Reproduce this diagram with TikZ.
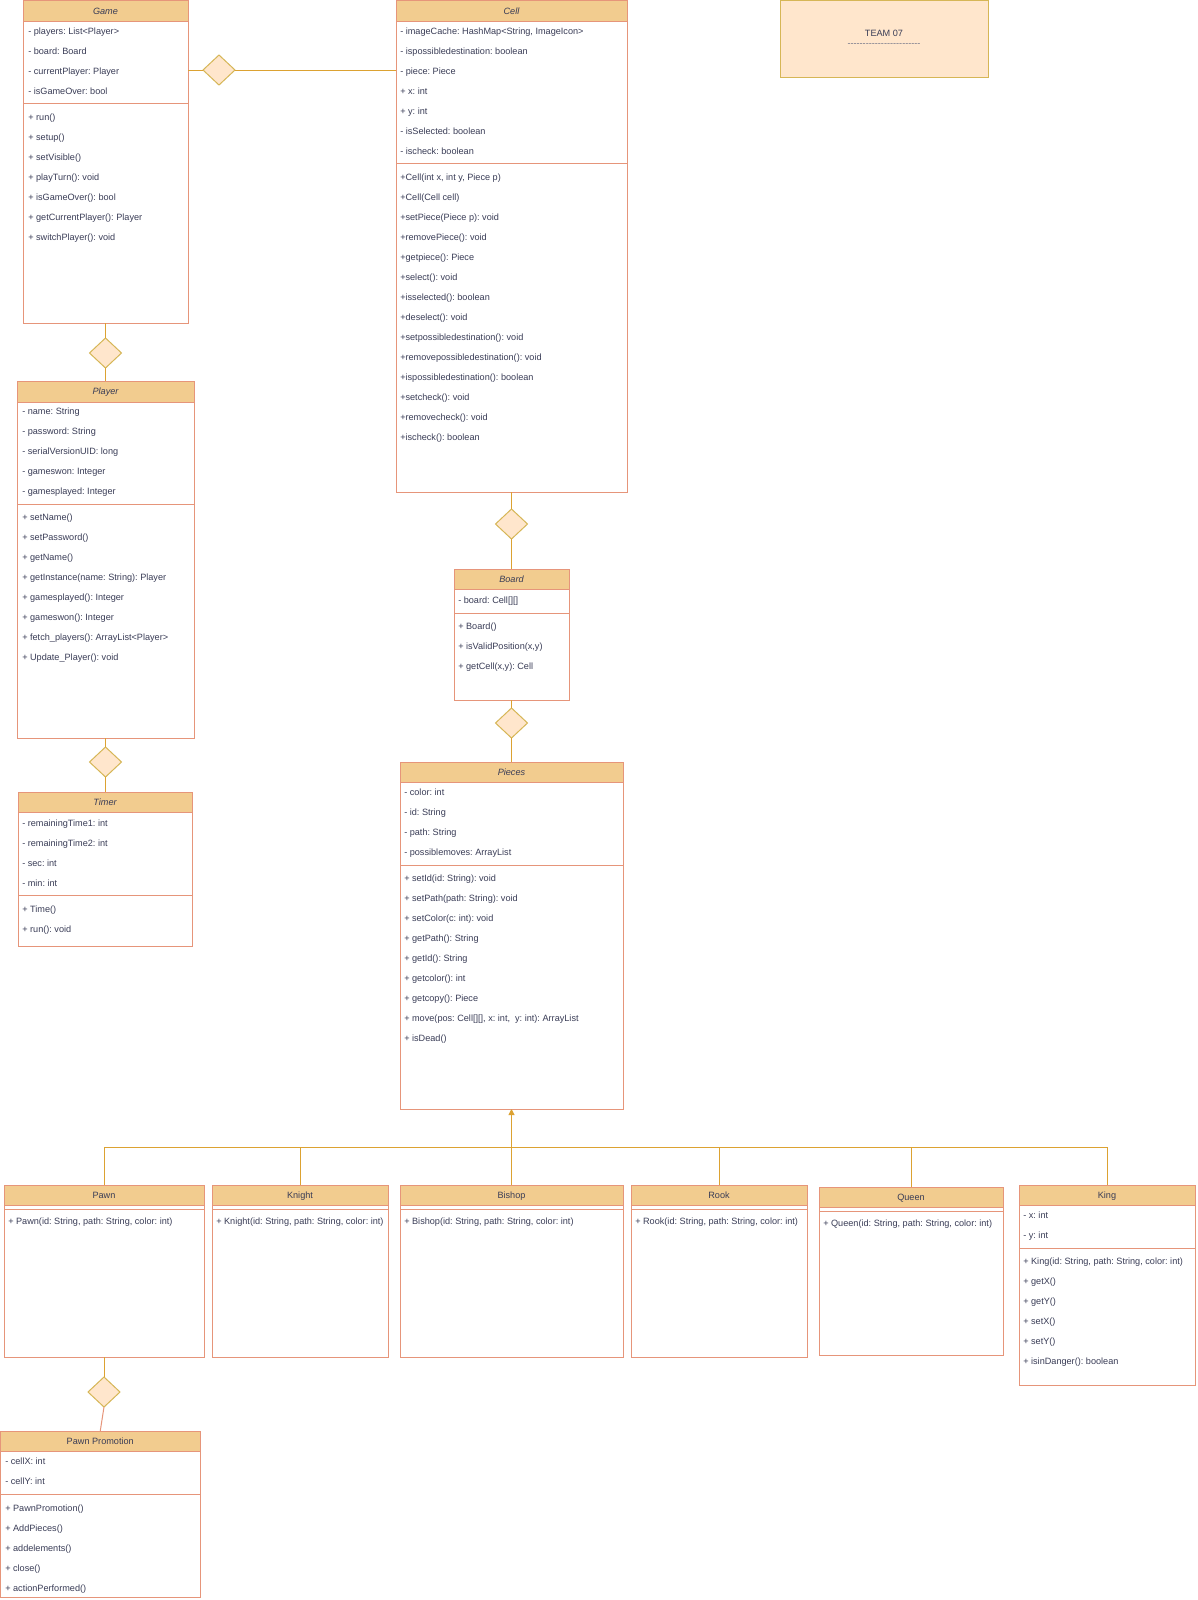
\documentclass[tikz,border=0pt]{standalone}
\usepackage{fontspec}
\setmainfont{Liberation Sans}
\usetikzlibrary{shapes.geometric,fit,arrows.meta}
\definecolor{headfill}{HTML}{F2CC8F}
\definecolor{clsstroke}{HTML}{E6957A}
\definecolor{txtc}{HTML}{393C56}
\definecolor{connc}{HTML}{DCA232}
\definecolor{dfill}{HTML}{FFE6CC}
\definecolor{dstroke}{HTML}{D6B656}
\tikzset{
  clsbox/.style={rectangle, draw=clsstroke, line width=0.75pt, inner sep=0pt, outer sep=0pt},
  clsline/.style={draw=clsstroke, line width=0.75pt},
  titletext/.style={anchor=base, inner sep=0pt, text=txtc, font=\fontsize{6.85pt}{8pt}\selectfont\frenchspacing},
  rowtext/.style={anchor=base west, inner sep=0pt, text=txtc, font=\fontsize{6.85pt}{8pt}\selectfont\frenchspacing},
  conn/.style={draw=connc, line width=0.75pt},
  diam/.style={diamond, draw=dstroke, fill=dfill, line width=0.75pt, minimum width=24pt, minimum height=22.5pt, inner sep=0pt, outer sep=0pt},
  teambox/.style={rectangle, draw=dstroke, fill=dfill, line width=0.75pt, inner sep=0pt, outer sep=0pt},
}
% #1 name, #2 x1, #3 y1, #4 x2, #5 y2, #6 header bottom, #7 title
\newcommand{\umlcls}[7]{%
  \fill[headfill] (#2,#3) rectangle (#4,#6);
  \node[clsbox, fit={(#2,#3) (#4,#5)}] (#1) {};
  \draw[clsline] (#2,#6) -- (#4,#6);
  \node[titletext] (#1-title) at ({(#2+#4)/2},{(#3+#6)/2+3.3}) {#7};
}
% #1 prefix, #2 x, #3 first row y, #4 list
\newcommand{\rowlist}[4]{%
  \foreach \rtext [count=\ri] in {#4} {\node[rowtext] (#1\ri) at (#2,{#3+20*(\ri-1)+3.3}) {\rtext};}
}
\newcommand{\hh}{-\kern0pt}
\begin{document}
\begin{tikzpicture}[x=0.75pt,y=-0.75pt]
\useasboundingbox (0,0) rectangle (1197,1600);
\fill[white] (0,0) rectangle (1197,1600);

% ---------- Game ----------
\umlcls{game}{23}{0.5}{188}{323}{21}{\itshape Game}
\draw[clsline] (23,103) -- (188,103);
\rowlist{game-a}{28}{31}{{- players: List<Player>},{- board: Board},{- currentPlayer: Player},{- isGameOver: bool}}
\rowlist{game-m}{28}{117}{{+ run()},{+ setup()},{+ setVisible()},{+ playTurn(): void},{+ isGameOver(): bool},{+ getCurrentPlayer(): Player},{+ switchPlayer(): void}}

% ---------- Cell ----------
\umlcls{cell}{396}{0.5}{627}{492}{21}{\itshape Cell}
\draw[clsline] (396,163) -- (627,163);
\rowlist{cell-a}{400}{31}{{- imageCache: HashMap<String, ImageIcon>},{- ispossibledestination: boolean},{- piece: Piece},{+ x: int},{+ y: int},{- isSelected: boolean},{- ischeck: boolean}}
\rowlist{cell-m}{400}{177}{{+Cell(int x, int y, Piece p)},{+Cell(Cell cell)},{+setPiece(Piece p): void},{+removePiece(): void},{+getpiece(): Piece},{+select(): void},{+isselected(): boolean},{+deselect(): void},{+setpossibledestination(): void},{+removepossibledestination(): void},{+ispossibledestination(): boolean},{+setcheck(): void},{+removecheck(): void},{+ischeck(): boolean}}

% ---------- Team ----------
\node[teambox, fit={(780,0.5) (988,77)}] (team) {};
\node[titletext] (team-t) at (884,36.3) {TEAM 07};
\node[titletext, text=txtc!70] (team-d) at (884,46.5) {\hh\hh\hh\hh\hh\hh\hh\hh\hh\hh\hh\hh\hh\hh\hh\hh\hh\hh\hh\hh\hh\hh\hh\hh};

% ---------- Player ----------
\umlcls{player}{17}{381}{194}{738}{402}{\itshape Player}
\draw[clsline] (17,504) -- (194,504);
\rowlist{player-a}{22}{411}{{- name: String},{- password: String},{- serialVersionUID: long},{- gameswon: Integer},{- gamesplayed: Integer}}
\rowlist{player-m}{22}{517}{{+ setName()},{+ setPassword()},{+ getName()},{+ getInstance(name: String): Player},{+ gamesplayed(): Integer},{+ gameswon(): Integer},{+ fetch\_players(): ArrayList<Player>},{+ Update\_Player(): void}}

% ---------- Timer ----------
\umlcls{timer}{18}{792}{192}{946}{812}{\itshape Timer}
\draw[clsline] (18,895) -- (192,895);
\rowlist{timer-a}{22}{823}{{- remainingTime1: int},{- remainingTime2: int},{- sec: int},{- min: int}}
\rowlist{timer-m}{22}{909}{{+ Time()},{+ run(): void}}

% ---------- Board ----------
\umlcls{board}{454}{569}{569}{700}{589}{\itshape Board}
\draw[clsline] (454,613) -- (569,613);
\rowlist{board-a}{458}{600}{{- board: Cell[][]}}
\rowlist{board-m}{458}{626}{{+ Board()},{+ isValidPosition(x,y)},{+ getCell(x,y): Cell}}

% ---------- Pieces ----------
\umlcls{pieces}{400}{762}{623}{1109}{782}{\itshape Pieces}
\draw[clsline] (400,865) -- (623,865);
\rowlist{pieces-a}{404}{792}{{- color: int},{- id: String},{- path: String},{- possiblemoves: ArrayList}}
\rowlist{pieces-m}{404}{878}{{+ setId(id: String): void},{+ setPath(path: String): void},{+ setColor(c: int): void},{+ getPath(): String},{+ getId(): String},{+ getcolor(): int},{+ getcopy(): Piece},{+ move(pos: Cell[][], x: int,\ \ y: int): ArrayList},{+ isDead()}}

% ---------- Subclasses ----------
\umlcls{pawn}{4}{1185}{204}{1357}{1205}{Pawn}
\draw[clsline] (4,1209) -- (204,1209);
\rowlist{pawn-m}{8}{1221}{{+ Pawn(id: String, path: String, color: int)}}

\umlcls{knight}{212}{1185}{388}{1357}{1205}{Knight}
\draw[clsline] (212,1209) -- (388,1209);
\rowlist{knight-m}{216}{1221}{{+ Knight(id: String, path: String, color: int)}}

\umlcls{bishop}{400}{1185}{623}{1357}{1205}{Bishop}
\draw[clsline] (400,1209) -- (623,1209);
\rowlist{bishop-m}{404}{1221}{{+ Bishop(id: String, path: String, color: int)}}

\umlcls{rook}{631}{1185}{807}{1357}{1205}{Rook}
\draw[clsline] (631,1209) -- (807,1209);
\rowlist{rook-m}{635}{1221}{{+ Rook(id: String, path: String, color: int)}}

\umlcls{queen}{819}{1187}{1003}{1355}{1207}{Queen}
\draw[clsline] (819,1211) -- (1003,1211);
\rowlist{queen-m}{823}{1223}{{+ Queen(id: String, path: String, color: int)}}

\umlcls{king}{1019}{1185}{1195}{1385}{1205}{King}
\draw[clsline] (1019,1248) -- (1195,1248);
\rowlist{king-a}{1023}{1215}{{- x: int},{- y: int}}
\rowlist{king-m}{1023}{1261}{{+ King(id: String, path: String, color: int)},{+ getX()},{+ getY()},{+ setX()},{+ setY()},{+ isinDanger(): boolean}}

% ---------- Pawn Promotion ----------
\umlcls{pp}{0.5}{1431}{200}{1597}{1451}{Pawn Promotion}
\draw[clsline] (0.5,1494) -- (200,1494);
\rowlist{pp-a}{5}{1461}{{- cellX: int},{- cellY: int}}
\rowlist{pp-m}{5}{1508}{{+ PawnPromotion()},{+ AddPieces()},{+ addelements()},{+ close()},{+ actionPerformed()}}

% ---------- Diamonds ----------
\node[diam] (d1) at (219,70) {};
\node[diam] (d2) at (105.5,353) {};
\node[diam] (d3) at (105.5,762) {};
\node[diam] (d4) at (511.5,524) {};
\node[diam] (d5) at (511.5,723) {};
\node[diam] (d6) at (104,1392) {};

% ---------- Connectors ----------
\draw[conn] (game.east |- d1) -- (d1.west);
\draw[conn] (d1.east) -- (cell.west |- d1);
\draw[conn] (game.south) -- (d2.north);
\draw[conn] (d2.south) -- (player.north);
\draw[conn] (player.south) -- (d3.north);
\draw[conn] (d3.south) -- (d3.south |- timer.north);
\draw[conn] (cell.south) -- (d4.north);
\draw[conn] (d4.south) -- (board.north);
\draw[conn] (board.south) -- (d5.north);
\draw[conn] (d5.south) -- (pieces.north);

\coordinate (bus) at (511.5,1147);
\draw[conn, -{Triangle[length=4.5pt,width=4.5pt]}] (bus) -- (pieces.south);
\draw[conn] (bishop.north) -- (bus);
\draw[conn] (pawn.north) |- (bus);
\draw[conn] (knight.north) |- (bus);
\draw[conn] (rook.north) |- (bus);
\draw[conn] (queen.north) |- (bus);
\draw[conn] (king.north) |- (bus);

\draw[conn] (pawn.south) -- (d6.north);
\draw[clsline] (d6.south) -- (pp.north);
\end{tikzpicture}
\end{document}
